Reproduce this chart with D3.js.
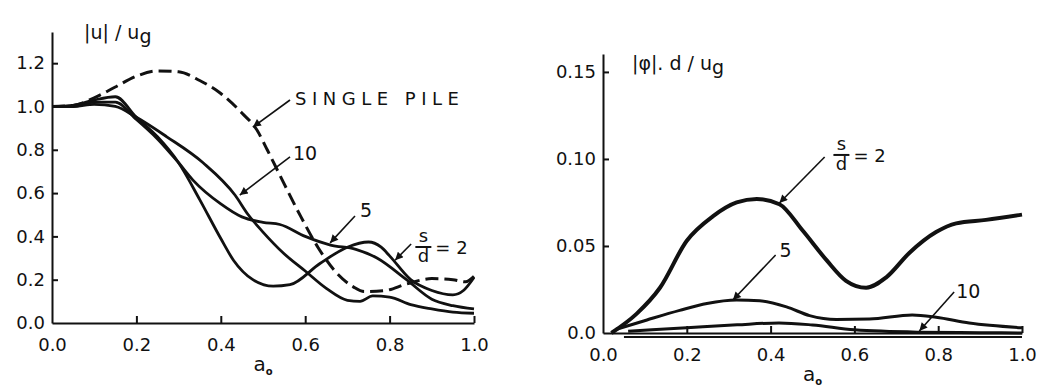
<!DOCTYPE html>
<html>
<head>
<meta charset="utf-8">
<script src="https://cdn.jsdelivr.net/npm/d3@7"></script>
<style>
  body { margin: 0; background: #fff; }
  text { font-family: 'DejaVu Sans', sans-serif; fill: #111; }
</style>
</head>
<body>
<div id="vizcontainer"></div>
<script>
// ---- data (a0 = dimensionless frequency) ----
const singlePile = [[0, 1.0], [0.05, 1.005], [0.1, 1.04], [0.15, 1.09], [0.2, 1.14], [0.25, 1.164], [0.3, 1.16],
  [0.35, 1.12], [0.4, 1.06], [0.45, 0.97], [0.486, 0.89], [0.51, 0.8], [0.533, 0.71], [0.59, 0.49], [0.63, 0.35],
  [0.675, 0.23], [0.714, 0.167], [0.74, 0.145], [0.79, 0.15], [0.84, 0.18], [0.9, 0.205], [0.95, 0.2], [0.98, 0.19], [1.0, 0.215]];
const dispS2 = [[0, 1.0], [0.05, 1.005], [0.1, 1.03], [0.15, 1.045], [0.2, 0.95], [0.25, 0.86], [0.3, 0.74], [0.35, 0.57],
  [0.4, 0.39], [0.43, 0.29], [0.476, 0.2], [0.524, 0.17], [0.564, 0.177], [0.635, 0.275], [0.7, 0.35], [0.75, 0.374],
  [0.78, 0.35], [0.8, 0.31], [0.85, 0.2], [0.9, 0.15], [0.95, 0.13], [0.975, 0.15], [1.0, 0.21]];
const dispS5 = [[0, 1.0], [0.05, 1.0], [0.1, 1.02], [0.15, 1.02], [0.2, 0.94], [0.25, 0.85], [0.3, 0.74], [0.334, 0.66],
  [0.4, 0.55], [0.45, 0.49], [0.5, 0.465], [0.54, 0.455], [0.6, 0.4], [0.66, 0.36], [0.72, 0.34], [0.77, 0.3],
  [0.84, 0.2], [0.9, 0.11], [0.95, 0.08], [1.0, 0.065]];
const dispS10 = [[0, 1.0], [0.05, 1.0], [0.1, 1.01], [0.15, 1.0], [0.2, 0.95], [0.272, 0.86], [0.358, 0.74], [0.434, 0.59],
  [0.465, 0.5], [0.5, 0.42], [0.55, 0.32], [0.6, 0.24], [0.65, 0.16], [0.7, 0.105], [0.73, 0.1], [0.76, 0.125],
  [0.8, 0.12], [0.85, 0.085], [0.9, 0.065], [0.95, 0.05], [1.0, 0.045]];

const rockS2 = [[0.02, 0.0], [0.08, 0.011], [0.136, 0.026], [0.2, 0.053], [0.262, 0.067], [0.319, 0.075], [0.367, 0.077],
  [0.421, 0.074], [0.476, 0.059], [0.533, 0.042], [0.58, 0.03], [0.628, 0.026], [0.676, 0.032], [0.731, 0.046],
  [0.795, 0.058], [0.843, 0.063], [0.914, 0.065], [1.0, 0.068]];
const rockS5 = [[0.03, 0.002], [0.105, 0.0075], [0.183, 0.013], [0.248, 0.017], [0.319, 0.019], [0.374, 0.0185],
  [0.438, 0.015], [0.493, 0.01], [0.557, 0.0078], [0.636, 0.008], [0.738, 0.0103], [0.795, 0.009], [0.874, 0.0057], [1.0, 0.003]];
const rockS10 = [[0.06, 0.001], [0.2, 0.003], [0.32, 0.0047], [0.42, 0.0058], [0.5, 0.0046], [0.6, 0.0018],
  [0.75, 0.0005], [0.9, 0.0002], [1.0, 0.0]];

const xTicks = [0, 0.2, 0.4, 0.6, 0.8, 1.0];
const xTickLabels = ['0.0', '0.2', '0.4', '0.6', '0.8', '1.0'];
const leftYTicks = [0, 0.2, 0.4, 0.6, 0.8, 1.0, 1.2];
const leftYTickLabels = ['0.0', '0.2', '0.4', '0.6', '0.8', '1.0', '1.2'];
const rightYTicks = [0, 0.05, 0.10, 0.15];
const rightYTickLabels = ['0.0', '0.05', '0.10', '0.15'];

const
  width = 1045,
  height = 389
  ;

let svg = d3.select('#vizcontainer')
  .append('svg')
  .attr('width', width)
  .attr('height', height)
  ;

svg.append('defs')
  .append('marker')
  .attr('id', 'arrow')
  .attr('viewBox', '0 0 10 10')
  .attr('refX', 10)
  .attr('refY', 5)
  .attr('markerUnits', 'userSpaceOnUse')
  .attr('markerWidth', 12)
  .attr('markerHeight', 8)
  .attr('orient', 'auto')
  .append('path')
  .attr('d', 'M0,0 L10,5 L0,10 z')
  .attr('fill', '#111')
  ;

// scales for both panels
const xL = d3.scaleLinear().domain([0, 1]).range([52, 474]);
const yL = d3.scaleLinear().domain([0, 1.344]).range([323, 32]);
const xR = d3.scaleLinear().domain([0, 1]).range([603, 1022]);
const yR = d3.scaleLinear().domain([0, 0.1603]).range([333, 54]);

const drawAxes = (x, y, yTicks, yLabels) => {
  let ya = svg.append('g')
    .attr('transform', `translate(${x.range()[0]},0)`)
    .call(d3.axisLeft(y)
      .tickValues(yTicks)
      .tickFormat((d, i) => yLabels[i])
      .tickSizeInner(-6)
      .tickSizeOuter(0)
      .tickPadding(7))
    ;
  let xa = svg.append('g')
    .attr('transform', `translate(0,${y.range()[0]})`)
    .call(d3.axisBottom(x)
      .tickValues(xTicks)
      .tickFormat((d, i) => xTickLabels[i])
      .tickSizeInner(-7)
      .tickSizeOuter(0)
      .tickPadding(15))
    ;
  [ya, xa].forEach(g => {
    g.select('.domain').attr('stroke', '#111').attr('stroke-width', 2);
    g.selectAll('.tick line').attr('stroke', '#111').attr('stroke-width', 2);
    g.selectAll('.tick text').style('font-size', '18px').style('font-family', 'DejaVu Sans').attr('fill', '#111');
  });
  xa.selectAll('.tick').filter(d => d === 0).select('line').remove();
  ya.selectAll('.tick').filter(d => d === 0).select('line').remove();
};

drawAxes(xL, yL, leftYTicks, leftYTickLabels);
drawAxes(xR, yR, rightYTicks, rightYTickLabels);

// second rule under the right-hand axis, as in the drawing
svg.append('line')
  .attr('x1', xR(0.05)).attr('x2', xR(1.0))
  .attr('y1', yR(0) + 4).attr('y2', yR(0) + 4)
  .attr('stroke', '#111')
  .attr('stroke-width', 2)
  ;

const lineL = d3.line().x(d => xL(d[0])).y(d => yL(d[1])).curve(d3.curveMonotoneX);
const lineR = d3.line().x(d => xR(d[0])).y(d => yR(d[1])).curve(d3.curveMonotoneX);

[dispS2, dispS5, dispS10].forEach(s => {
  svg.append('path')
    .attr('d', lineL(s))
    .attr('fill', 'none')
    .attr('stroke', '#111')
    .attr('stroke-width', 2.8)
    ;
});
svg.append('path')
  .attr('d', lineL(singlePile))
  .attr('fill', 'none')
  .attr('stroke', '#111')
  .attr('stroke-width', 3)
  .attr('stroke-dasharray', '13,6')
  ;

svg.append('path')
  .attr('d', lineR(rockS2))
  .attr('fill', 'none')
  .attr('stroke', '#111')
  .attr('stroke-width', 4)
  ;
[rockS5, rockS10].forEach(s => {
  svg.append('path')
    .attr('d', lineR(s))
    .attr('fill', 'none')
    .attr('stroke', '#111')
    .attr('stroke-width', 3)
    ;
});

// axis titles
const yTitle = (px, py, main) => {
  let t = svg.append('text')
    .attr('x', px)
    .attr('y', py)
    .style('font-size', '19px')
    ;
  t.append('tspan').text(main);
  t.append('tspan').attr('dy', 4).text('g');
};
yTitle(84, 39, '|u| / u');
yTitle(632, 70, '|φ|. d / u');

const xTitle = (x, y) => {
  let t = svg.append('text')
    .attr('x', x(0.5))
    .attr('y', y.range()[0] + 48)
    .attr('text-anchor', 'middle')
    .style('font-size', '20px')
    ;
  t.append('tspan').text('a');
  t.append('tspan').attr('dy', 4).style('font-size', '10px').style('font-weight', 'bold').text('o');
};
xTitle(xL, yL);
xTitle(xR, yR);

// labels with arrows
const arrow = (x, y, a, b) => {
  svg.append('line')
    .attr('x1', x(a[0])).attr('y1', y(a[1]))
    .attr('x2', x(b[0])).attr('y2', y(b[1]))
    .attr('stroke', '#111')
    .attr('stroke-width', 1.6)
    .attr('marker-end', 'url(#arrow)')
    ;
};
const label = (x, y, p, txt, size, spacing) => {
  svg.append('text')
    .attr('x', x(p[0]))
    .attr('y', y(p[1]))
    .style('font-size', size + 'px')
    .style('letter-spacing', (spacing || 0) + 'px')
    .text(txt)
    ;
};
const fraction = (x, y, p, size) => {
  // p = centre of the fraction bar
  let cx = x(p[0]), cy = y(p[1]);
  svg.append('text').attr('x', cx).attr('y', cy - 5).attr('text-anchor', 'middle').style('font-size', size + 'px').text('s');
  svg.append('line').attr('x1', cx - 8).attr('x2', cx + 8).attr('y1', cy).attr('y2', cy).attr('stroke', '#111').attr('stroke-width', 2);
  svg.append('text').attr('x', cx).attr('y', cy + 15).attr('text-anchor', 'middle').style('font-size', size + 'px').text('d');
  svg.append('text').attr('x', cx + 12).attr('y', cy + 7).style('font-size', size + 'px').text('= 2');
};

label(xL, yL, [0.576, 1.007], 'SINGLE PILE', 18, 5.5);
arrow(xL, yL, [0.564, 1.03], [0.476, 0.905]);
label(xL, yL, [0.571, 0.753], '10', 19);
arrow(xL, yL, [0.564, 0.767], [0.445, 0.591]);
label(xL, yL, [0.73, 0.49], '5', 19);
arrow(xL, yL, [0.718, 0.494], [0.659, 0.37]);
fraction(xL, yL, [0.88, 0.351], 18);
arrow(xL, yL, [0.851, 0.365], [0.813, 0.29]);

fraction(xR, yR, [0.569, 0.1023], 18);
arrow(xR, yR, [0.529, 0.1011], [0.421, 0.0747]);
label(xR, yR, [0.421, 0.0437], '5', 19);
arrow(xR, yR, [0.412, 0.0448], [0.31, 0.019]);
label(xR, yR, [0.843, 0.0201], '10', 19);
arrow(xR, yR, [0.838, 0.0236], [0.755, 0.0012]);
</script>
</body>
</html>
